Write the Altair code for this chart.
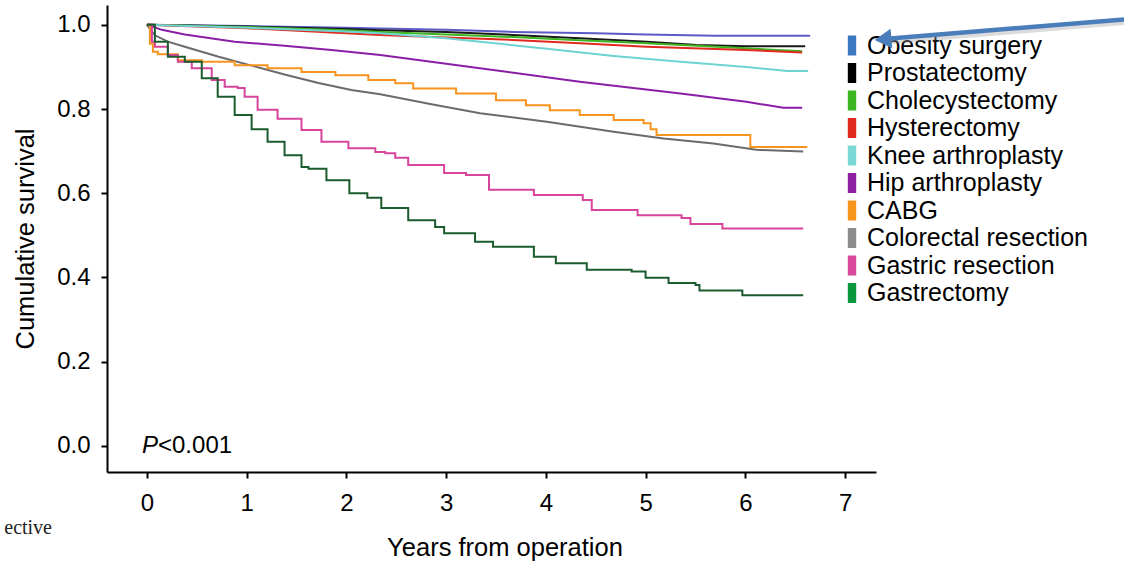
import altair as alt
import pandas as pd

categories = ["Obesity surgery", "Prostatectomy", "Cholecystectomy", "Hysterectomy",
              "Knee arthroplasty", "Hip arthroplasty", "CABG", "Colorectal resection",
              "Gastric resection", "Gastrectomy"]
line_colors = ["#5b5bc8", "#1a1a1a", "#3cb521", "#e02a1f", "#6dd3d3",
               "#8a1fa6", "#f7941d", "#6b6b6b", "#d6449b", "#1a5c2e"]
legend_colors = ["#3a78c0", "#000000", "#3cb521", "#dd2a1b", "#7ad8d6",
                 "#8e1fa3", "#f7941d", "#8c8c8c", "#d9489a", "#0b973c"]
step_series = ["CABG", "Gastric resection", "Gastrectomy"]

obesity_t = [0, 1, 2, 2.34, 3, 3.67, 4.5, 5.0, 5.7, 6.65]
obesity_s = [1.0, 0.997, 0.993, 0.991, 0.988, 0.983, 0.980, 0.977, 0.974, 0.974]
prost_t = [0, 1, 2, 2.34, 3, 3.67, 4.34, 5.01, 5.51, 6.01, 6.6]
prost_s = [1.0, 0.996, 0.990, 0.987, 0.983, 0.976, 0.968, 0.960, 0.952, 0.949, 0.949]
chole_t = [0, 1, 2, 2.34, 3, 3.67, 4.34, 5.01, 6.01, 6.57]
chole_s = [1.0, 0.995, 0.987, 0.983, 0.977, 0.971, 0.963, 0.956, 0.944, 0.937]
hyst_t = [0, 1, 2, 2.34, 3, 3.67, 4.34, 5.01, 6.01, 6.57]
hyst_s = [1.0, 0.992, 0.980, 0.976, 0.970, 0.964, 0.956, 0.948, 0.940, 0.934]
knee_t = [0, 1, 2, 2.34, 3, 3.34, 4.01, 4.68, 5.35, 6.01, 6.42, 6.63]
knee_s = [1.0, 0.993, 0.984, 0.980, 0.968, 0.960, 0.943, 0.926, 0.912, 0.900, 0.890, 0.890]
hip_t = [0, 0.15, 0.38, 0.88, 1.38, 1.85, 2.34, 3.34, 4.34, 5.35, 6.01, 6.38, 6.57]
hip_s = [1.0, 0.988, 0.977, 0.960, 0.950, 0.940, 0.928, 0.897, 0.865, 0.837, 0.817, 0.803, 0.803]
colo_t = [0, 0.08, 0.21, 0.38, 0.72, 1.05, 1.38, 1.72, 2.05, 2.34, 2.84, 3.34, 4.01,
          4.68, 5.18, 5.68, 6.11, 6.58]
colo_s = [1.0, 0.975, 0.960, 0.948, 0.924, 0.903, 0.882, 0.862, 0.845, 0.835, 0.812,
          0.790, 0.770, 0.746, 0.730, 0.718, 0.703, 0.699]
cabg_t = [0, 0.03, 0.06, 0.11, 0.31, 0.55, 0.88, 1.21, 1.55, 1.89, 2.22, 2.49, 2.67,
          3.1, 3.5, 3.8, 4.04, 4.34, 4.68, 4.98, 5.05, 5.11, 6.05, 6.62]
cabg_s = [1.0, 0.955, 0.936, 0.930, 0.916, 0.912, 0.904, 0.897, 0.888, 0.880, 0.869,
          0.861, 0.849, 0.837, 0.821, 0.809, 0.797, 0.786, 0.774, 0.766, 0.752, 0.738,
          0.710, 0.710]
gastric_t = [0, 0.05, 0.08, 0.21, 0.31, 0.45, 0.65, 0.78, 0.91, 0.98, 1.11, 1.31, 1.55,
             1.75, 2.02, 2.29, 2.39, 2.49, 2.62, 2.98, 3.2, 3.43, 3.88, 4.37, 4.46, 4.92,
             5.36, 5.45, 5.77, 6.58]
gastric_s = [1.0, 0.960, 0.948, 0.928, 0.912, 0.897, 0.869, 0.853, 0.850, 0.829, 0.798,
             0.777, 0.750, 0.722, 0.707, 0.698, 0.695, 0.684, 0.667, 0.648, 0.643, 0.608,
             0.596, 0.584, 0.560, 0.548, 0.541, 0.527, 0.516, 0.516]
gastrect_t = [0, 0.08, 0.21, 0.38, 0.55, 0.71, 0.88, 1.05, 1.21, 1.38, 1.55, 1.62, 1.8,
              2.03, 2.21, 2.35, 2.62, 2.89, 2.98, 3.29, 3.47, 3.88, 4.1, 4.41, 4.86, 5.0,
              5.23, 5.5, 5.54, 5.97, 6.58]
gastrect_s = [1.0, 0.960, 0.924, 0.912, 0.873, 0.829, 0.786, 0.752, 0.722, 0.690, 0.662,
              0.658, 0.631, 0.600, 0.589, 0.565, 0.536, 0.520, 0.505, 0.485, 0.473, 0.449,
              0.434, 0.418, 0.414, 0.399, 0.387, 0.382, 0.369, 0.358, 0.358]

series = {
    "Obesity surgery": (obesity_t, obesity_s),
    "Prostatectomy": (prost_t, prost_s),
    "Cholecystectomy": (chole_t, chole_s),
    "Hysterectomy": (hyst_t, hyst_s),
    "Knee arthroplasty": (knee_t, knee_s),
    "Hip arthroplasty": (hip_t, hip_s),
    "Colorectal resection": (colo_t, colo_s),
    "CABG": (cabg_t, cabg_s),
    "Gastric resection": (gastric_t, gastric_s),
    "Gastrectomy": (gastrect_t, gastrect_s),
}

smooth_rows, step_rows = [], []
for name, (ts, ss) in series.items():
    target = step_rows if name in step_series else smooth_rows
    for t, s in zip(ts, ss):
        target.append({"proc": name, "t": t, "s": s})
smooth_df = pd.DataFrame(smooth_rows)
step_df = pd.DataFrame(step_rows)

# ---- layout helpers (plot area: 769 x 467 px, origin at page (107, 5)) ----
X_DOM = [-0.4, 7.31]
Y_DOM = [-0.062, 1.047]
W, H, LEFT, TOP = 769, 467, 107, 5


def px_to_t(px):
    return X_DOM[0] + (px - LEFT) / W * (X_DOM[1] - X_DOM[0])


def py_to_s(py):
    return Y_DOM[1] - (py - TOP) / H * (Y_DOM[1] - Y_DOM[0])


# manual legend (positions in chart coordinates)
legend_df = pd.DataFrame({
    "proc": categories,
    "col": legend_colors,
    "ts": [px_to_t(852)] * len(categories),
    "tt": [px_to_t(867)] * len(categories),
    "s": [py_to_s(45.5 + 27.5 * i) for i in range(len(categories))],
})

# annotations
arrow_line = pd.DataFrame({"t": [px_to_t(884)], "s": [py_to_s(39)],
                           "t2": [px_to_t(1124)], "s2": [py_to_s(19.5)]})
arrow_shadow = pd.DataFrame({"t": [px_to_t(887)], "s": [py_to_s(42.5)],
                             "t2": [px_to_t(1124)], "s2": [py_to_s(23)]})
arrow_head = pd.DataFrame({"t": [px_to_t(883)], "s": [py_to_s(39.2)]})
p_text = pd.DataFrame({"t": [px_to_t(142)], "s": [0.0]})
cut_text = pd.DataFrame({"t": [px_to_t(52)], "s": [py_to_s(528)], "txt": ["ective"]})

FONT = "Liberation Sans"
x_scale = alt.Scale(domain=X_DOM, nice=False, zero=False)
y_scale = alt.Scale(domain=Y_DOM, nice=False, zero=False)
color_scale = alt.Scale(domain=categories, range=line_colors)

x_enc = alt.X("t:Q", scale=x_scale,
              axis=alt.Axis(values=list(range(8)), format="d", title="Years from operation",
                            labelPadding=13, titlePadding=20, titleX=W / 2 + 13))
y_enc = alt.Y("s:Q", scale=y_scale,
              axis=alt.Axis(values=[0, 0.2, 0.4, 0.6, 0.8, 1.0], format=".1f",
                            title="Cumulative survival", labelPadding=11, titlePadding=18))

smooth = alt.Chart(smooth_df).mark_line(strokeWidth=2, interpolate="linear").encode(
    x=x_enc, y=y_enc,
    color=alt.Color("proc:N", scale=color_scale, legend=None),
)
steps = alt.Chart(step_df).mark_line(strokeWidth=2, interpolate="step-after").encode(
    x="t:Q", y="s:Q",
    color=alt.Color("proc:N", scale=color_scale, legend=None),
)

leg_sym = alt.Chart(legend_df).mark_point(
    shape="M-0.42,-1H0.42V1H-0.42Z", size=400, filled=True, opacity=1, strokeWidth=0
).encode(x="ts:Q", y="s:Q", fill=alt.Fill("col:N", scale=None))
leg_txt = alt.Chart(legend_df).mark_text(
    align="left", baseline="middle", font=FONT, fontSize=25, color="#000"
).encode(x="tt:Q", y="s:Q", text="proc:N")

shadow = alt.Chart(arrow_shadow).mark_rule(strokeWidth=4, color="#9a9a9a", opacity=0.35).encode(
    x="t:Q", y="s:Q", x2="t2:Q", y2="s2:Q")
arrow = alt.Chart(arrow_line).mark_rule(strokeWidth=4.5, color="#4a7ebb").encode(
    x="t:Q", y="s:Q", x2="t2:Q", y2="s2:Q")
head = alt.Chart(arrow_head).mark_point(shape="triangle-left", filled=True, size=380,
                                        angle=355, color="#4a7ebb", opacity=1).encode(
    x="t:Q", y="s:Q")

p_italic = alt.Chart(p_text).mark_text(text="P", align="left", baseline="middle", font=FONT,
                                       fontSize=24, fontStyle="italic", color="#000").encode(
    x="t:Q", y="s:Q")
p_rest = alt.Chart(p_text).mark_text(text="<0.001", align="left", baseline="middle", font=FONT,
                                     fontSize=24, dx=16, color="#000").encode(
    x="t:Q", y="s:Q")
cut = alt.Chart(cut_text).mark_text(align="right", baseline="middle", font="Liberation Serif",
                                    fontSize=20, color="#222").encode(
    x="t:Q", y="s:Q", text="txt:N")

chart = alt.layer(smooth, steps, leg_sym, leg_txt, shadow, arrow, head,
                  p_italic, p_rest, cut).properties(
    width=W, height=H,
    autosize=alt.AutoSizeParams(type="none"),
    padding={"left": LEFT, "top": TOP, "right": 1124 - LEFT - W, "bottom": 561 - TOP - H},
).configure_view(stroke=None).configure_axis(
    grid=False, domainColor="#000", domainWidth=2, tickColor="#000", tickWidth=2, tickSize=6,
    labelFont=FONT, labelFontSize=24, labelColor="#000",
    titleFont=FONT, titleFontSize=25.5, titleFontWeight="normal", titleColor="#000",
)

chart.save("out.html", embed_options={"renderer": "svg", "actions": False})
